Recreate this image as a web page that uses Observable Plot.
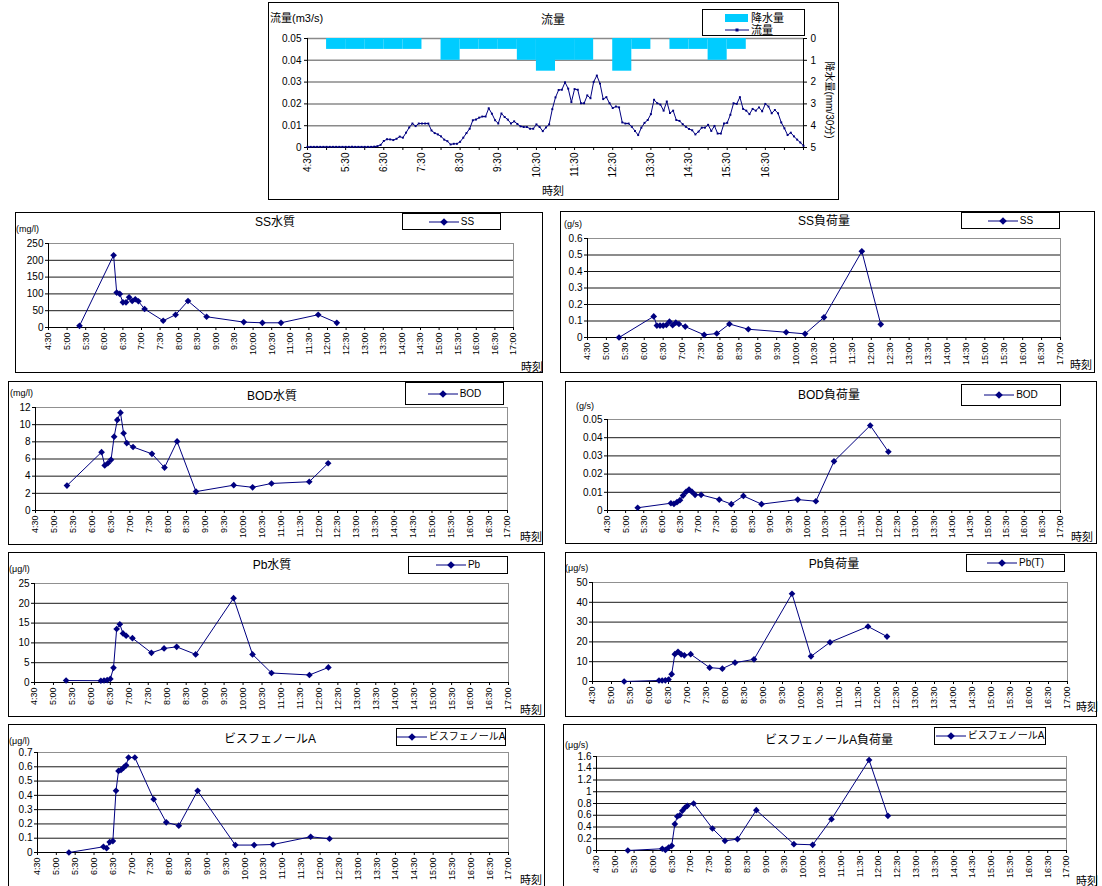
<!DOCTYPE html>
<html><head><meta charset="utf-8">
<script src="https://cdn.jsdelivr.net/npm/d3@7"></script>
<script src="https://cdn.jsdelivr.net/npm/@observablehq/plot@0.6"></script>
<style>
html,body{margin:0;padding:0;background:#fff;}
#page{position:relative;width:1102px;height:886px;overflow:hidden;font-family:"Liberation Sans","Noto Sans CJK JP",sans-serif;color:#000;}
.box{position:absolute;border:1px solid #000;box-sizing:border-box;background:#fff;}
.t{position:absolute;white-space:nowrap;line-height:1;}
.c{transform:translate(-50%,-50%);}
.lm{transform:translate(0,-50%);}
.lg{position:absolute;border:1px solid #000;box-sizing:border-box;background:#fff;display:flex;align-items:center;justify-content:center;font-size:10px;line-height:1;white-space:nowrap;}
</style></head><body><div id="page"></div>
<script>
// ---------------- data ----------------
const flowTimes = ("4:30 4:35 4:40 4:45 4:50 4:55 5:00 5:05 5:10 5:15 5:20 5:25 5:30 5:35 5:40 5:45 5:50 5:55 " +
 "6:00 6:05 6:10 6:15 6:20 6:25 6:30 6:35 6:40 6:45 6:50 6:55 7:00 7:05 7:10 7:15 7:20 7:25 7:30 7:35 7:40 7:45 7:50 7:55 " +
 "8:00 8:05 8:10 8:15 8:20 8:25 8:30 8:35 8:40 8:45 8:50 8:55 9:00 9:05 9:10 9:15 9:20 9:25 9:30 9:35 9:40 9:45 9:50 9:55 " +
 "10:00 10:05 10:10 10:15 10:20 10:25 10:30 10:35 10:40 10:45 10:50 10:55 11:00 11:05 11:10 11:15 11:20 11:25 11:30 11:35 11:40 11:45 11:50 11:55 " +
 "12:00 12:05 12:10 12:15 12:20 12:25 12:30 12:35 12:40 12:45 12:50 12:55 13:00 13:05 13:10 13:15 13:20 13:25 13:30 13:35 13:40 13:45 13:50 13:55 " +
 "14:00 14:05 14:10 14:15 14:20 14:25 14:30 14:35 14:40 14:45 14:50 14:55 15:00 15:05 15:10 15:15 15:20 15:25 15:30 15:35 15:40 15:45 15:50 15:55 " +
 "16:00 16:05 16:10 16:15 16:20 16:25 16:30 16:35 16:40 16:45 16:50 16:55 17:00 17:05 17:10 17:15 17:20 17:25 17:30").split(" ");
const flowValues = [
 0.0003,0.0003,0.0003,0.0003,0.0003,0.0003,0.0003,0.0003,0.0003,0.0003,0.0003,0.0003,
 0.0003,0.0003,0.0003,0.0003,0.0003,0.0003,0.0003,0.0003,0.0003,0.0004,0.0006,0.0012,
 0.0030,0.0038,0.0037,0.0034,0.0040,0.0050,0.0045,0.0068,0.0092,0.0110,0.0098,0.0110,
 0.0110,0.0110,0.0110,0.0078,0.0066,0.0060,0.0051,0.0036,0.0029,0.0014,0.0017,0.0017,
 0.0026,0.0045,0.0066,0.0086,0.0125,0.0128,0.0137,0.0142,0.0142,0.0180,0.0155,0.0125,
 0.0110,0.0156,0.0140,0.0128,0.0110,0.0120,0.0108,0.0097,0.0094,0.0094,0.0086,0.0086,
 0.0106,0.0094,0.0075,0.0092,0.0106,0.0176,0.0230,0.0264,0.0265,0.0299,0.0270,0.0208,
 0.0268,0.0265,0.0203,0.0203,0.0239,0.0226,0.0301,0.0330,0.0293,0.0222,0.0231,0.0203,
 0.0181,0.0188,0.0184,0.0115,0.0110,0.0110,0.0095,0.0076,0.0057,0.0091,0.0113,0.0126,
 0.0153,0.0219,0.0203,0.0197,0.0169,0.0211,0.0158,0.0169,0.0126,0.0122,0.0107,0.0095,
 0.0085,0.0079,0.0060,0.0073,0.0091,0.0091,0.0104,0.0076,0.0099,0.0064,0.0064,0.0110,
 0.0113,0.0150,0.0203,0.0200,0.0231,0.0177,0.0169,0.0153,0.0177,0.0169,0.0184,0.0166,
 0.0200,0.0188,0.0157,0.0172,0.0157,0.0115,0.0088,0.0057,0.0068,0.0051,0.0036,0.0023,
 0.0008];
const rainStart = ["5:00","5:30","6:00","6:30","7:00","8:00","8:30","9:00","9:30","10:00","10:30","11:00","11:30","12:30","13:00","14:00","14:30","15:00","15:30"];
const rainEnd   = ["5:30","6:00","6:30","7:00","7:30","8:30","9:00","9:30","10:00","10:30","11:00","11:30","12:00","13:00","13:30","14:30","15:00","15:30","16:00"];
const rainValues = [0.5,0.5,0.5,0.5,0.5,1.0,0.5,0.5,0.5,1.0,1.5,1.0,1.0,1.5,0.5,0.5,0.5,1.0,0.5];
const flowTickMarks = ["4:30","5:00","5:30","6:00","6:30","7:00","7:30","8:00","8:30","9:00","9:30","10:00","10:30","11:00","11:30","12:00","12:30","13:00","13:30","14:00","14:30","15:00","15:30","16:00","16:30","17:00","17:30"];
const flowTickLabels = ["4:30","5:30","6:30","7:30","8:30","9:30","10:30","11:30","12:30","13:30","14:30","15:30","16:30"];
const flowTicks = [0,0.01,0.02,0.03,0.04,0.05];
const rainTicks = [0,1,2,3,4,5];

const panelTickLabels = ["4:30","5:00","5:30","6:00","6:30","7:00","7:30","8:00","8:30","9:00","9:30","10:00","10:30","11:00","11:30","12:00","12:30","13:00","13:30","14:00","14:30","15:00","15:30","16:00","16:30","17:00"];
const sampleTimes = ["5:20","6:15","6:20","6:25","6:30","6:35","6:40","6:45","6:50","6:55","7:05","7:35","7:55","8:15","8:45","9:45","10:15","10:45","11:45","12:15"];
const bpaTimes = ["5:20","6:15","6:20","6:25","6:30","6:35","6:39","6:43","6:47","6:51","6:55","7:05","7:35","7:55","8:15","8:45","9:45","10:15","10:45","11:45","12:15"];

const ssConc  = [5,215,104,100,75,75,90,79,84,78,55,20,38,79,32,16,14,14,38,14];
const ssLoad  = [0.0,0.128,0.072,0.072,0.072,0.076,0.096,0.074,0.09,0.082,0.066,0.016,0.024,0.082,0.05,0.032,0.022,0.122,0.522,0.08];
const bodConc = [2.9,6.8,5.25,5.5,5.9,8.6,10.55,11.4,9.0,7.85,7.4,6.6,5.0,8.05,2.2,2.95,2.7,3.15,3.35,5.5];
const bodLoad = [0.0015,0.004,0.0036,0.0046,0.0057,0.0082,0.0102,0.0115,0.0102,0.0086,0.0086,0.006,0.0035,0.008,0.0035,0.006,0.0051,0.027,0.0467,0.0323];
const pbConc  = [0.5,0.45,0.5,0.6,0.9,3.7,13.5,14.7,12.4,11.8,11.2,7.5,8.6,9.0,7.1,21.3,7.1,2.4,1.9,3.8];
const pbLoad  = [0,0.5,0.5,0.6,1.0,3.7,13.8,15.0,13.7,13.2,13.8,7.0,6.5,9.5,11.2,44.3,12.7,19.8,27.8,22.7];
const bpaConc = [0.0,0.04,0.03,0.073,0.08,0.432,0.571,0.578,0.594,0.61,0.665,0.665,0.373,0.211,0.188,0.432,0.052,0.052,0.056,0.11,0.096];
const bpaLoad = [0.0,0.03,0.01,0.05,0.08,0.45,0.58,0.6,0.676,0.727,0.76,0.8,0.375,0.165,0.193,0.687,0.108,0.097,0.534,1.54,0.59];

const ssConcTicks = [0,50,100,150,200,250];
const ssLoadTicks = [0,0.1,0.2,0.3,0.4,0.5,0.6];
const bodConcTicks = [0,2,4,6,8,10,12];
const bodLoadTicks = [0,0.01,0.02,0.03,0.04,0.05];
const pbConcTicks = [0,5,10,15,20,25];
const pbLoadTicks = [0,10,20,30,40,50];
const bpaConcTicks = [0,0.1,0.2,0.3,0.4,0.5,0.6,0.7];
const bpaLoadTicks = [0,0.2,0.4,0.6,0.8,1,1.2,1.4,1.6];

// ---------------- helpers ----------------
const NAVY = "#000080";
const FONT = '"Liberation Sans","Noto Sans CJK JP",sans-serif';
const toMin = s => { const [h, m] = s.split(":").map(Number); return h * 60 + m; };
const hm = m => `${Math.floor(m / 60)}:${String(m % 60).padStart(2, "0")}`;
const num = d => String(+(+d).toFixed(4));
const page = document.getElementById("page");

function text(str, x, y, size, cls = "c", extra = "") {
  const d = document.createElement("div");
  d.className = "t " + cls;
  d.style.cssText = `left:${x}px;top:${y}px;font-size:${size}px;${extra}`;
  d.textContent = str;
  page.appendChild(d);
  return d;
}
function box(l, t, r, b) {
  const d = document.createElement("div");
  d.className = "box";
  d.style.cssText = `left:${l}px;top:${t}px;width:${r - l}px;height:${b - t}px;`;
  page.appendChild(d);
}
function place(svg, l, t) {
  svg.style.position = "absolute";
  svg.style.left = l + "px";
  svg.style.top = t + "px";
  page.appendChild(svg);
}
function legend([l, t, r, b], label) {
  const d = document.createElement("div");
  d.className = "lg";
  d.style.cssText = `left:${l}px;top:${t}px;width:${r - l}px;height:${b - t}px;`;
  d.innerHTML = `<svg width="30" height="10" style="display:block;flex:none"><line x1="0" y1="5" x2="30" y2="5" stroke="${NAVY}" stroke-width="1"/><path d="M15 1.2 L18.8 5 L15 8.8 L11.2 5 Z" fill="${NAVY}"/></svg><span style="margin-left:2px;white-space:nowrap">${label}</span>`;
  page.appendChild(d);
}

function panel(cfg) {
  const [l, t, r, b] = cfg.box, [x0, x1, y0, y1] = cfg.area;
  box(l, t, r, b);
  const xt = panelTickLabels.map(toMin);
  const ymax = cfg.yTicks[cfg.yTicks.length - 1];
  const data = cfg.times.map((s, i) => ({t: toMin(s), v: cfg.values[i]}));
  const svg = Plot.plot({
    width: r - l, height: b - t,
    marginLeft: x0 - l, marginRight: r - x1, marginTop: y0 - t, marginBottom: b - y1,
    style: {background: "transparent", fontFamily: FONT, fontSize: "9px", overflow: "visible", color: "#000"},
    x: {type: "linear", domain: [xt[0], xt[xt.length - 1]]},
    y: {type: "linear", domain: [0, ymax]},
    marks: [
      Plot.gridY(cfg.yTicks.filter(v => v > 0 && v < ymax), {stroke: "#000", strokeOpacity: 0.9}),
      Plot.ruleY([ymax], {stroke: "#909090"}),
      Plot.ruleX([xt[xt.length - 1]], {stroke: "#909090"}),
      Plot.axisY({ticks: cfg.yTicks, tickFormat: num, tickSize: 3, tickPadding: 2, label: null, fontSize: 10}),
      Plot.axisX({ticks: xt, tickFormat: hm, tickRotate: -90, tickSize: 3, tickPadding: 2, label: null, fontSize: 9}),
      Plot.ruleX([xt[0]], {stroke: "#000"}),
      Plot.ruleY([0], {stroke: "#000"}),
      Plot.line(data, {x: "t", y: "v", stroke: NAVY, strokeWidth: 1}),
      Plot.dot(data, {x: "t", y: "v", symbol: "diamond2", fill: NAVY, r: 3})
    ]
  });
  place(svg, l, t);
  text(cfg.title, cfg.titleAt[0], cfg.titleAt[1], 12);
  text(cfg.unit, cfg.unitAt[0], cfg.unitAt[1], 9, "lm");
  text("時刻", cfg.timeAt[0], cfg.timeAt[1], 11);
  legend(cfg.legend, cfg.series);
}

// ---------------- top chart: 流量 + 降水量 ----------------
{
  const l = 268, t = 2, r = 839, b = 200;
  box(l, t, r, b);
  const fx = flowTickMarks.map(toMin);
  const labelSet = new Set(flowTickLabels.map(toMin));
  const flowData = flowTimes.map((s, i) => ({t: toMin(s), v: flowValues[i]}));
  const rainData = rainStart.map((s, i) => ({t1: toMin(s), t2: toMin(rainEnd[i]), v: rainValues[i]}));
  const common = {
    width: r - l, height: b - t,
    marginLeft: 307 - l, marginRight: r - 803, marginTop: 38 - t, marginBottom: b - 147,
    style: {background: "transparent", fontFamily: FONT, fontSize: "10px", overflow: "visible", color: "#000"}
  };
  const rainSvg = Plot.plot({
    ...common,
    x: {type: "linear", domain: [fx[0], fx[fx.length - 1]], axis: null},
    y: {type: "linear", domain: [0, 5], reverse: true},
    marks: [
      Plot.gridY(rainTicks.filter(v => v < 5), {stroke: "#8a8a8a", strokeOpacity: 1, strokeWidth: 1.5}),
      Plot.rect(rainData, {x1: "t1", x2: "t2", y1: 0, y2: "v", fill: "#00CCFF"}),
      Plot.axisY({anchor: "right", ticks: rainTicks, tickFormat: num, tickSize: 3, tickPadding: 4, label: null, fontSize: 10}),
      Plot.ruleX([fx[fx.length - 1]], {stroke: "#000"})
    ]
  });
  place(rainSvg, l, t);
  const flowSvg = Plot.plot({
    ...common,
    x: {type: "linear", domain: [fx[0], fx[fx.length - 1]]},
    y: {type: "linear", domain: [0, 0.05]},
    marks: [
      Plot.axisY({ticks: flowTicks, tickFormat: num, tickSize: 3, tickPadding: 3, label: null, fontSize: 10}),
      Plot.axisX({ticks: fx, tickFormat: m => labelSet.has(m) ? hm(m) : "", tickRotate: -90, tickSize: 3, tickPadding: 2, label: null, fontSize: 10}),
      Plot.ruleX([fx[0]], {stroke: "#000"}),
      Plot.ruleY([0], {stroke: "#000"}),
      Plot.line(flowData, {x: "t", y: "v", stroke: NAVY, strokeWidth: 1}),
      Plot.dot(flowData, {x: "t", y: "v", symbol: "square", fill: NAVY, r: 1.1})
    ]
  });
  place(flowSvg, l, t);
  text("流量(m3/s)", 270, 18, 11, "lm");
  text("流量", 553, 20, 12);
  text("時刻", 553, 191, 11);
  text("降水量(mm/30分)", 829, 100, 10, "c", "transform:translate(-50%,-50%) rotate(90deg);");
  const lg = document.createElement("div");
  lg.className = "box";
  lg.style.cssText = "left:702px;top:9px;width:103px;height:27px;font-size:11px;";
  lg.innerHTML = `<div style="position:absolute;left:22px;top:4px;width:23px;height:8px;background:#00CCFF"></div>
    <div class="t lm" style="left:48px;top:8px;font-size:11px">降水量</div>
    <svg style="position:absolute;left:22px;top:16px" width="24" height="8"><line x1="0" y1="4" x2="24" y2="4" stroke="${NAVY}"/><rect x="10.5" y="2.5" width="3" height="3" fill="${NAVY}"/></svg>
    <div class="t lm" style="left:48px;top:20px;font-size:11px">流量</div>`;
  page.appendChild(lg);
}

// ---------------- sub panels ----------------
panel({box: [15, 212, 543, 373], area: [48, 513, 243, 327], times: sampleTimes, values: ssConc, yTicks: ssConcTicks,
  title: "SS水質", titleAt: [275, 222], unit: "(mg/l)", unitAt: [16, 229], timeAt: [532, 367], legend: [402, 213, 501, 230], series: "SS"});
panel({box: [560, 211, 1095, 373], area: [587, 1060, 238, 337], times: sampleTimes, values: ssLoad, yTicks: ssLoadTicks,
  title: "SS負荷量", titleAt: [824, 221], unit: "(g/s)", unitAt: [564, 224], timeAt: [1081, 365], legend: [961, 212, 1060, 229], series: "SS"});
panel({box: [8, 381, 543, 545], area: [35, 507, 407, 510], times: sampleTimes, values: bodConc, yTicks: bodConcTicks,
  title: "BOD水質", titleAt: [272, 396], unit: "(mg/l)", unitAt: [10, 393], timeAt: [531, 537], legend: [405, 382, 504, 405], series: "BOD"});
panel({box: [565, 381, 1097, 544], area: [607, 1060, 419, 510], times: sampleTimes, values: bodLoad, yTicks: bodLoadTicks,
  title: "BOD負荷量", titleAt: [829, 395], unit: "(g/s)", unitAt: [576, 406], timeAt: [1082, 537], legend: [961, 384, 1061, 406], series: "BOD"});
panel({box: [8, 552, 545, 717], area: [34, 508, 583, 682], times: sampleTimes, values: pbConc, yTicks: pbConcTicks,
  title: "Pb水質", titleAt: [272, 565], unit: "(μg/l)", unitAt: [9, 569], timeAt: [531, 710], legend: [408, 556, 508, 574], series: "Pb"});
panel({box: [565, 552, 1097, 717], area: [592, 1067, 582, 681], times: sampleTimes, values: pbLoad, yTicks: pbLoadTicks,
  title: "Pb負荷量", titleAt: [834, 564], unit: "(μg/s)", unitAt: [565, 568], timeAt: [1087, 707], legend: [966, 554, 1065, 572], series: "Pb(T)"});
panel({box: [8, 724, 545, 890], area: [37, 508, 752, 852], times: bpaTimes, values: bpaConc, yTicks: bpaConcTicks,
  title: "ビスフェノールA", titleAt: [270, 739], unit: "(μg/l)", unitAt: [9, 741], timeAt: [531, 880], legend: [396, 728, 506, 746], series: "ビスフェノールA"});
panel({box: [563, 724, 1097, 890], area: [596, 1066, 756, 850], times: bpaTimes, values: bpaLoad, yTicks: bpaLoadTicks,
  title: "ビスフェノールA負荷量", titleAt: [829, 740], unit: "(μg/s)", unitAt: [565, 745], timeAt: [1087, 881], legend: [934, 727, 1046, 745], series: "ビスフェノールA"});
</script></body></html>
